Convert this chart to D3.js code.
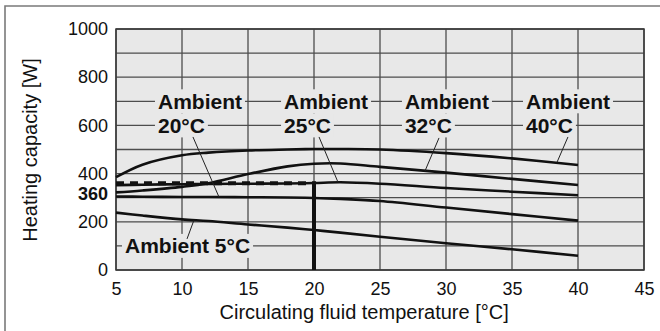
<!DOCTYPE html>
<html>
<head>
<meta charset="utf-8">
<script src="https://cdn.jsdelivr.net/npm/d3@7"></script>
<style>
  body { margin: 0; background: #fff; }
  svg { display: block; font-family: "Liberation Sans", Arial, Helvetica, sans-serif; }
</style>
</head>
<body>
<div id="chart"></div>
<script>
// Circulating fluid temperature samples [°C]
const fluidTemps = [5, 7, 10, 12, 15, 18, 20, 22, 25, 30, 35, 40];

// Heating capacity [W] for each ambient temperature
const ambient40 = [385, 437, 476, 487, 496, 500, 502, 502, 500, 485, 463, 436];
const ambient32 = [322, 330, 345, 360, 398, 430, 441, 442, 428, 404, 378, 353];
const ambient25 = [352, 354, 356, 357, 358, 359, 361, 364, 358, 340, 325, 310];
const ambient20 = [305, 304, 303, 303, 302, 301, 299, 295, 286, 259, 232, 205];
const ambient5  = [238, 226, 210, 203, 189, 176, 166, 155, 138, 111, 86, 59];

const seriesList = [ambient40, ambient32, ambient25, ambient20, ambient5];

// Rated point
const ratedTemp = 20;
const ratedCapacity = 360;

// Tick labels
const xTicks = [5, 10, 15, 20, 25, 30, 35, 40, 45];
const yTicks = [0, 200, 400, 600, 800, 1000];
const yGrid = d3.range(0, 1001, 100);

// Label blocks: lines, left x, gridline value of first line
const labelBlocks = [
  { lines: ['Ambient', '20°C'], x: 8.18, y: 700 },
  { lines: ['Ambient', '25°C'], x: 17.73, y: 700 },
  { lines: ['Ambient', '32°C'], x: 26.89, y: 700 },
  { lines: ['Ambient', '40°C'], x: 36.06, y: 700 },
  { lines: ['Ambient 5°C'], x: 5.68, y: 100 }
];

// Leader lines from labels to curves: [x1, y1, x2, y2] in data units
const leaders = [
  [10.83, 552, 12.8, 303],
  [20.38, 552, 21.82, 364],
  [29.47, 548, 28.41, 411],
  [39.24, 552, 38.41, 447],
  [10.38, 129, 10.9, 206]
];

const width = 660, height = 331;
const margin = { top: 29, right: 16, bottom: 61, left: 116 };
const innerWidth = width - margin.left - margin.right;
const innerHeight = height - margin.top - margin.bottom;

const svg = d3.select('#chart')
  .append('svg')
  .attr('width', width)
  .attr('height', height);

// Outer frame
svg.append('path')
  .attr('d', `M5,${height} V6 H${width}`)
  .attr('fill', 'none')
  .attr('stroke', '#7a7a7a')
  .attr('stroke-width', 1.6);

const g = svg.append('g')
  .attr('transform', `translate(${margin.left},${margin.top})`);

const x = d3.scaleLinear().domain([5, 45]).range([0, innerWidth]);
const y = d3.scaleLinear().domain([0, 1000]).range([innerHeight, 0]);

// Plot background
g.append('rect')
  .attr('width', innerWidth)
  .attr('height', innerHeight)
  .attr('fill', '#e8e8e8');

// Grid
const gridColor = '#4d4d4d';
g.append('g')
  .selectAll('line')
  .data(yGrid)
  .join('line')
  .attr('x1', 0)
  .attr('x2', innerWidth)
  .attr('y1', d => y(d))
  .attr('y2', d => y(d))
  .attr('stroke', gridColor)
  .attr('stroke-width', 1.3);

g.append('g')
  .selectAll('line')
  .data(xTicks)
  .join('line')
  .attr('x1', d => x(d))
  .attr('x2', d => x(d))
  .attr('y1', 0)
  .attr('y2', innerHeight)
  .attr('stroke', gridColor)
  .attr('stroke-width', 1.3);

g.append('rect')
  .attr('width', innerWidth)
  .attr('height', innerHeight)
  .attr('fill', 'none')
  .attr('stroke', '#3a3a3a')
  .attr('stroke-width', 1.5);

// Label blocks with background knocking out the grid
const labelLayer = g.append('g');
labelBlocks.forEach(block => {
  block.lines.forEach((txt, i) => {
    const gy = y(block.y - i * 100);
    const t = labelLayer.append('text')
      .attr('x', x(block.x))
      .attr('y', gy)
      .attr('dy', '0.35em')
      .attr('font-size', 21)
      .attr('font-weight', 'bold')
      .attr('fill', '#111')
      .text(txt);
    const bb = t.node().getBBox();
    labelLayer.insert('rect', 'text')
      .attr('x', bb.x - 3)
      .attr('y', gy - 12)
      .attr('width', bb.width + 6)
      .attr('height', 24)
      .attr('fill', '#e8e8e8');
  });
});

// Curves
const line = d3.line()
  .x((d, i) => x(fluidTemps[i]))
  .y(d => y(d))
  .curve(d3.curveCatmullRom.alpha(0.5));

g.append('g')
  .selectAll('path')
  .data(seriesList)
  .join('path')
  .attr('d', line)
  .attr('fill', 'none')
  .attr('stroke', '#111')
  .attr('stroke-width', 2.6);

// Leader lines
g.append('g')
  .selectAll('line')
  .data(leaders)
  .join('line')
  .attr('x1', d => x(d[0]))
  .attr('y1', d => y(d[1]))
  .attr('x2', d => x(d[2]))
  .attr('y2', d => y(d[3]))
  .attr('stroke', '#222')
  .attr('stroke-width', 1);

// Rated point guides
g.append('line')
  .attr('x1', x(5))
  .attr('x2', x(ratedTemp) - 4)
  .attr('y1', y(ratedCapacity))
  .attr('y2', y(ratedCapacity))
  .attr('stroke', '#111')
  .attr('stroke-width', 4)
  .attr('stroke-dasharray', '8,6');

g.append('line')
  .attr('x1', x(ratedTemp))
  .attr('x2', x(ratedTemp))
  .attr('y1', y(ratedCapacity) - 2)
  .attr('y2', y(0))
  .attr('stroke', '#111')
  .attr('stroke-width', 4);

// Axes (labels only)
const xAxis = g.append('g')
  .attr('transform', `translate(0,${innerHeight})`)
  .call(d3.axisBottom(x).tickValues(xTicks).tickSize(0).tickPadding(12));
xAxis.select('.domain').remove();
xAxis.selectAll('text')
  .attr('font-size', 18)
  .attr('font-family', null)
  .attr('fill', '#111');

const yAxis = g.append('g')
  .call(d3.axisLeft(y).tickValues(yTicks).tickFormat(d3.format('d')).tickSize(0).tickPadding(8));
yAxis.select('.domain').remove();
yAxis.selectAll('text')
  .attr('font-size', 18)
  .attr('font-family', null)
  .attr('fill', '#111');

// Bold rated value label, shifted below the 400 label
g.append('text')
  .attr('x', -8)
  .attr('y', y(ratedCapacity) + 10)
  .attr('dy', '0.35em')
  .attr('text-anchor', 'end')
  .attr('font-size', 18)
  .attr('font-weight', 'bold')
  .attr('fill', '#111')
  .text(ratedCapacity);

// Axis titles
svg.append('text')
  .attr('x', margin.left + innerWidth * 0.47)
  .attr('y', 319)
  .attr('text-anchor', 'middle')
  .attr('font-size', 20)
  .attr('fill', '#111')
  .text('Circulating fluid temperature [°C]');

svg.append('text')
  .attr('transform', 'translate(36.5,150) rotate(-90)')
  .attr('text-anchor', 'middle')
  .attr('font-size', 20)
  .attr('fill', '#111')
  .text('Heating capacity [W]');
</script>
</body>
</html>
